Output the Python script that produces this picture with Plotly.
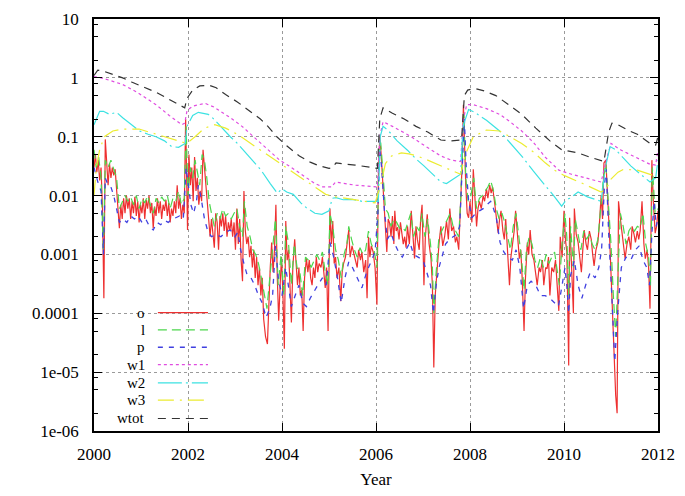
import plotly.graph_objects as go

# ---------------- data ----------------
o_year = [2000.00, 2000.03, 2000.06, 2000.09, 2000.12, 2000.15, 2000.18, 2000.21, 2000.24, 2000.27,
          2000.30, 2000.33, 2000.36, 2000.39, 2000.42, 2000.45, 2000.48, 2000.51, 2000.54, 2000.57,
          2000.60, 2000.63, 2000.66, 2000.69, 2000.72, 2000.75, 2000.78, 2000.81, 2000.84, 2000.87,
          2000.90, 2000.93, 2000.96, 2000.99, 2001.02, 2001.05, 2001.08, 2001.11, 2001.14, 2001.17,
          2001.20, 2001.23, 2001.26, 2001.29, 2001.32, 2001.35, 2001.38, 2001.41, 2001.44, 2001.47,
          2001.50, 2001.53, 2001.56, 2001.59, 2001.62, 2001.65, 2001.68, 2001.71, 2001.74, 2001.77,
          2001.80, 2001.83, 2001.86, 2001.89, 2001.92, 2001.95, 2001.97, 2001.99, 2002.02, 2002.05,
          2002.08, 2002.11, 2002.14, 2002.17, 2002.20, 2002.23, 2002.26, 2002.29, 2002.32, 2002.35,
          2002.38, 2002.41, 2002.44, 2002.47, 2002.50, 2002.53, 2002.56, 2002.59, 2002.62, 2002.65,
          2002.68, 2002.71, 2002.74, 2002.77, 2002.80, 2002.83, 2002.86, 2002.89, 2002.92, 2002.95,
          2002.98, 2003.01, 2003.04, 2003.07, 2003.10, 2003.13, 2003.16, 2003.19, 2003.22, 2003.25,
          2003.28, 2003.31, 2003.34, 2003.37, 2003.40, 2003.43, 2003.46, 2003.49, 2003.52, 2003.55,
          2003.58, 2003.61, 2003.65, 2003.69, 2003.72, 2003.75, 2003.78, 2003.81, 2003.84, 2003.87,
          2003.90, 2003.93, 2003.96, 2003.99, 2004.02, 2004.05, 2004.08, 2004.11, 2004.14, 2004.17,
          2004.20, 2004.23, 2004.27, 2004.30, 2004.33, 2004.36, 2004.39, 2004.42, 2004.45, 2004.48,
          2004.52, 2004.55, 2004.58, 2004.61, 2004.64, 2004.67, 2004.70, 2004.73, 2004.76, 2004.79,
          2004.83, 2004.86, 2004.89, 2004.92, 2004.95, 2004.98, 2005.02, 2005.05, 2005.08, 2005.11,
          2005.14, 2005.17, 2005.21, 2005.25, 2005.28, 2005.31, 2005.35, 2005.38, 2005.42, 2005.45,
          2005.49, 2005.52, 2005.56, 2005.60, 2005.63, 2005.67, 2005.70, 2005.74, 2005.78, 2005.81,
          2005.84, 2005.87, 2005.90, 2005.94, 2005.98, 2006.02, 2006.05, 2006.08, 2006.11, 2006.14,
          2006.17, 2006.20, 2006.23, 2006.26, 2006.29, 2006.32, 2006.35, 2006.38, 2006.40, 2006.43,
          2006.46, 2006.49, 2006.52, 2006.55, 2006.58, 2006.61, 2006.64, 2006.67, 2006.71, 2006.75,
          2006.78, 2006.82, 2006.85, 2006.88, 2006.92, 2006.95, 2006.98, 2007.00, 2007.02, 2007.05,
          2007.09, 2007.13, 2007.17, 2007.20, 2007.23, 2007.26, 2007.30, 2007.34, 2007.38, 2007.42,
          2007.46, 2007.50, 2007.54, 2007.57, 2007.61, 2007.65, 2007.69, 2007.72, 2007.76, 2007.80,
          2007.83, 2007.86, 2007.88, 2007.91, 2007.94, 2007.97, 2008.00, 2008.04, 2008.07, 2008.10,
          2008.14, 2008.17, 2008.20, 2008.24, 2008.28, 2008.31, 2008.35, 2008.38, 2008.42, 2008.45,
          2008.48, 2008.52, 2008.56, 2008.60, 2008.63, 2008.66, 2008.70, 2008.73, 2008.76, 2008.80,
          2008.84, 2008.87, 2008.90, 2008.94, 2008.97, 2009.01, 2009.05, 2009.08, 2009.11, 2009.15,
          2009.18, 2009.22, 2009.25, 2009.28, 2009.32, 2009.36, 2009.40, 2009.43, 2009.47, 2009.50,
          2009.54, 2009.57, 2009.61, 2009.64, 2009.67, 2009.70, 2009.74, 2009.78, 2009.82, 2009.85,
          2009.89, 2009.92, 2009.96, 2010.00, 2010.03, 2010.06, 2010.10, 2010.12, 2010.16, 2010.20,
          2010.22, 2010.26, 2010.30, 2010.34, 2010.37, 2010.40, 2010.43, 2010.47, 2010.50, 2010.54,
          2010.58, 2010.61, 2010.64, 2010.68, 2010.72, 2010.75, 2010.79, 2010.82, 2010.85, 2010.89,
          2010.93, 2010.97, 2011.01, 2011.05, 2011.10, 2011.13, 2011.16, 2011.20, 2011.24, 2011.27,
          2011.30, 2011.34, 2011.38, 2011.42, 2011.45, 2011.49, 2011.52, 2011.56, 2011.59, 2011.62,
          2011.66, 2011.70, 2011.73, 2011.77, 2011.80, 2011.83, 2011.87, 2011.90, 2011.94, 2011.97,
          2012.00]
o_val = [0.03, 0.05, 0.025, 0.04, 0.018, 0.03, 0.006, 0.00018, 0.09, 0.03,
         0.015, 0.035, 0.02, 0.03, 0.022, 0.028, 0.012, 0.006, 0.0028, 0.007,
         0.004, 0.009, 0.005, 0.01, 0.006, 0.009, 0.004, 0.008, 0.005, 0.0095,
         0.0045, 0.008, 0.0035, 0.007, 0.005, 0.009, 0.004, 0.0085, 0.006, 0.01,
         0.005, 0.0075, 0.0028, 0.0065, 0.0045, 0.009, 0.005, 0.008, 0.004, 0.007,
         0.0055, 0.0085, 0.0045, 0.0075, 0.0035, 0.006, 0.0045, 0.008, 0.005, 0.015,
         0.006, 0.009, 0.004, 0.007, 0.005, 0.2, 0.02, 0.0026, 0.05, 0.015,
         0.03, 0.008, 0.045, 0.012, 0.02, 0.007, 0.012, 0.008, 0.06, 0.03,
         0.015, 0.006, 0.004, 0.002, 0.004, 0.0025, 0.0013, 0.005, 0.0035, 0.0012,
         0.0045, 0.003, 0.005, 0.0025, 0.0045, 0.002, 0.0035, 0.0025, 0.004, 0.002,
         0.0035, 0.0012, 0.006, 0.0015, 0.004, 0.0008, 0.00035, 0.012, 0.0025, 0.0015,
         0.002, 0.0009, 0.0014, 0.0006, 0.0012, 0.0004, 0.0009, 0.0003, 0.0006, 0.0002,
         0.0004, 0.00008, 0.00004, 0.00003, 0.0002, 0.0006, 0.0016, 0.0005, 0.0012, 0.007,
         0.0004, 0.000075, 0.0003, 0.0009, 0.0002, 0.000025, 0.0037, 0.0008, 0.0012, 0.0002,
         0.00007, 0.0006, 0.0018, 0.0007, 0.0003, 0.0006, 0.0002, 0.00025, 0.00005, 0.0004,
         0.00085, 0.0005, 0.0008, 0.0004, 0.0003, 0.0006, 0.0004, 0.0009, 0.0005, 0.0007,
         0.0006, 0.0009, 0.0004, 0.00027, 0.0006, 0.00005, 0.006, 0.0015, 0.0037, 0.0007,
         0.0009, 0.0004, 0.0006, 0.00016, 0.0005, 0.0007, 0.0009, 0.0015, 0.0026, 0.0009,
         0.0014, 0.0011, 0.0008, 0.0006, 0.0012, 0.0008, 0.0011, 0.0005, 0.0008, 0.00018,
         0.002, 0.0009, 0.0014, 0.0011, 0.0006, 0.00014, 0.02, 0.1, 0.05, 0.02,
         0.006, 0.0025, 0.0011, 0.004, 0.0034, 0.002, 0.0045, 0.0015, 0.0055, 0.0025,
         0.0029, 0.0018, 0.0035, 0.0023, 0.0015, 0.002, 0.0013, 0.003, 0.0015, 0.0055,
         0.002, 0.00085, 0.003, 0.0018, 0.0012, 0.004, 0.007, 0.0015, 0.0003, 0.002,
         0.0048, 0.0015, 0.00085, 0.0003, 0.000012, 0.0002, 0.0006, 0.0015, 0.003, 0.0014,
         0.002, 0.0037, 0.0018, 0.006, 0.0025, 0.003, 0.0016, 0.002, 0.0012, 0.008,
         0.03, 0.35, 0.06, 0.015, 0.005, 0.0042, 0.008, 0.0035, 0.028, 0.009,
         0.003, 0.006, 0.008, 0.006, 0.01, 0.008, 0.013, 0.009, 0.015, 0.011,
         0.014, 0.008, 0.004, 0.0023, 0.004, 0.0055, 0.0025, 0.0018, 0.004, 0.0012,
         0.0003, 0.0009, 0.0014, 0.0025, 0.0055, 0.002, 0.00085, 0.0012, 0.0004, 0.00005,
         0.0004, 0.0016, 0.001, 0.0026, 0.001, 0.0008, 0.0005, 0.0003, 0.0006, 0.0005,
         0.0008, 0.0003, 0.0006, 0.00057, 0.0009, 0.0002, 0.0006, 0.0005, 0.0008, 0.0003,
         0.00011, 0.002, 0.0009, 0.0055, 0.0018, 0.0011, 0.000013, 0.0042, 0.0008, 0.0001,
         0.006, 0.0022, 0.0016, 0.0009, 0.0005, 0.0012, 0.0026, 0.0015, 0.0012, 0.0025,
         0.0018, 0.001, 0.00064, 0.0012, 0.0016, 0.003, 0.01, 0.004, 0.036, 0.04,
         0.01, 0.002, 0.0003, 0.00003, 0.000004, 0.000002, 0.008, 0.004, 0.0023, 0.0015,
         0.00085, 0.0015, 0.002, 0.0012, 0.003, 0.0022, 0.0016, 0.0025, 0.0018, 0.0025,
         0.008, 0.0015, 0.00085, 0.0012, 0.0006, 0.00012, 0.04, 0.008, 0.0023, 0.003,
         0.0055]

l_year = [2000.00, 2000.05, 2000.10, 2000.15, 2000.20, 2000.24, 2000.30, 2000.36, 2000.42, 2000.48,
          2000.54, 2000.60, 2000.66, 2000.72, 2000.78, 2000.84, 2000.90, 2000.96, 2001.02, 2001.08,
          2001.14, 2001.20, 2001.26, 2001.32, 2001.38, 2001.44, 2001.50, 2001.56, 2001.62, 2001.68,
          2001.74, 2001.80, 2001.86, 2001.92, 2001.96, 2002.00, 2002.05, 2002.10, 2002.15, 2002.20,
          2002.25, 2002.30, 2002.35, 2002.40, 2002.45, 2002.50, 2002.56, 2002.62, 2002.68, 2002.74,
          2002.80, 2002.86, 2002.92, 2002.98, 2003.04, 2003.10, 2003.16, 2003.20, 2003.26, 2003.32,
          2003.38, 2003.44, 2003.50, 2003.56, 2003.62, 2003.68, 2003.74, 2003.80, 2003.86, 2003.92,
          2003.98, 2004.04, 2004.08, 2004.14, 2004.20, 2004.26, 2004.32, 2004.38, 2004.44, 2004.50,
          2004.56, 2004.62, 2004.68, 2004.74, 2004.80, 2004.86, 2004.92, 2004.98, 2005.02, 2005.08,
          2005.14, 2005.20, 2005.26, 2005.32, 2005.38, 2005.42, 2005.48, 2005.54, 2005.60, 2005.66,
          2005.72, 2005.78, 2005.84, 2005.90, 2005.96, 2006.02, 2006.06, 2006.10, 2006.14, 2006.20,
          2006.26, 2006.32, 2006.38, 2006.44, 2006.50, 2006.56, 2006.62, 2006.68, 2006.74, 2006.80,
          2006.86, 2006.92, 2006.98, 2007.04, 2007.10, 2007.16, 2007.20, 2007.23, 2007.28, 2007.34,
          2007.40, 2007.46, 2007.52, 2007.58, 2007.64, 2007.70, 2007.76, 2007.80, 2007.84, 2007.87,
          2007.91, 2007.96, 2008.02, 2008.08, 2008.14, 2008.20, 2008.26, 2008.32, 2008.38, 2008.44,
          2008.50, 2008.56, 2008.62, 2008.68, 2008.74, 2008.80, 2008.86, 2008.92, 2008.98, 2009.04,
          2009.10, 2009.15, 2009.20, 2009.26, 2009.32, 2009.38, 2009.44, 2009.50, 2009.56, 2009.62,
          2009.68, 2009.74, 2009.80, 2009.86, 2009.90, 2009.96, 2010.02, 2010.06, 2010.10, 2010.14,
          2010.20, 2010.24, 2010.30, 2010.36, 2010.42, 2010.48, 2010.54, 2010.60, 2010.66, 2010.72,
          2010.78, 2010.84, 2010.89, 2010.94, 2011.00, 2011.05, 2011.10, 2011.15, 2011.20, 2011.26,
          2011.32, 2011.38, 2011.44, 2011.50, 2011.56, 2011.62, 2011.68, 2011.74, 2011.80, 2011.84,
          2011.88, 2011.94, 2012.00]
l_val = [0.06, 0.03, 0.045, 0.02, 0.0011, 0.04, 0.03, 0.04, 0.028, 0.02,
         0.006, 0.008, 0.01, 0.008, 0.0095, 0.007, 0.01, 0.006, 0.009, 0.0075,
         0.01, 0.007, 0.005, 0.009, 0.0075, 0.0095, 0.008, 0.01, 0.006, 0.009,
         0.008, 0.012, 0.007, 0.009, 0.15, 0.01, 0.03, 0.02, 0.04, 0.025,
         0.015, 0.05, 0.04, 0.02, 0.008, 0.005, 0.003, 0.005, 0.004, 0.006,
         0.0045, 0.005, 0.004, 0.005, 0.006, 0.003, 0.002, 0.008, 0.003, 0.002,
         0.0012, 0.001, 0.0007, 0.0004, 0.0002, 0.00012, 0.0004, 0.0015, 0.004, 0.0003,
         0.001, 0.0002, 0.003, 0.0015, 0.0003, 0.0015, 0.0006, 0.0005, 0.0002, 0.0009,
         0.0008, 0.0006, 0.0008, 0.001, 0.0008, 0.0011, 0.0005, 0.0003, 0.005, 0.003,
         0.0012, 0.0008, 0.0004, 0.001, 0.0015, 0.003, 0.0018, 0.0012, 0.0009, 0.0013,
         0.001, 0.0012, 0.0025, 0.0015, 0.0012, 0.0006, 0.04, 0.08, 0.03, 0.006,
         0.005, 0.003, 0.004, 0.0035, 0.0028, 0.003, 0.0025, 0.0035, 0.005, 0.002,
         0.003, 0.0025, 0.005, 0.002, 0.004, 0.0015, 0.0006, 0.0001, 0.0005, 0.002,
         0.0025, 0.003, 0.004, 0.005, 0.003, 0.0025, 0.002, 0.008, 0.05, 0.25,
         0.02, 0.008, 0.01, 0.02, 0.006, 0.009, 0.01, 0.012, 0.014, 0.018,
         0.012, 0.006, 0.004, 0.005, 0.0035, 0.002, 0.0012, 0.003, 0.005, 0.002,
         0.0008, 0.00025, 0.0012, 0.002, 0.0015, 0.0008, 0.0006, 0.0009, 0.0006, 0.001,
         0.0007, 0.0009, 0.0011, 0.0005, 0.0003, 0.0015, 0.005, 0.002, 0.0002, 0.003,
         0.0006, 0.004, 0.002, 0.0012, 0.0025, 0.0018, 0.0022, 0.0015, 0.0012, 0.0018,
         0.006, 0.02, 0.035, 0.008, 0.0015, 0.0002, 0.00004, 0.0005, 0.005, 0.003,
         0.0015, 0.0025, 0.003, 0.0025, 0.003, 0.0028, 0.005, 0.0015, 0.0009, 0.0003,
         0.03, 0.005, 0.006]

p_year = [2000.00, 2000.05, 2000.10, 2000.15, 2000.20, 2000.24, 2000.30, 2000.36, 2000.42, 2000.48,
          2000.54, 2000.62, 2000.70, 2000.78, 2000.86, 2000.94, 2001.02, 2001.10, 2001.18, 2001.26,
          2001.34, 2001.42, 2001.50, 2001.58, 2001.66, 2001.74, 2001.82, 2001.90, 2001.96, 2002.00,
          2002.06, 2002.12, 2002.18, 2002.22, 2002.28, 2002.35, 2002.42, 2002.50, 2002.60, 2002.70,
          2002.80, 2002.90, 2003.00, 2003.06, 2003.12, 2003.18, 2003.26, 2003.34, 2003.42, 2003.50,
          2003.58, 2003.66, 2003.74, 2003.80, 2003.86, 2003.92, 2004.00, 2004.08, 2004.14, 2004.20,
          2004.28, 2004.36, 2004.44, 2004.52, 2004.60, 2004.68, 2004.76, 2004.86, 2004.94, 2005.02,
          2005.10, 2005.18, 2005.26, 2005.34, 2005.42, 2005.50, 2005.60, 2005.70, 2005.80, 2005.90,
          2005.98, 2006.04, 2006.08, 2006.12, 2006.18, 2006.24, 2006.32, 2006.40, 2006.48, 2006.56,
          2006.64, 2006.72, 2006.80, 2006.90, 2007.00, 2007.08, 2007.16, 2007.22, 2007.28, 2007.34,
          2007.40, 2007.48, 2007.56, 2007.64, 2007.72, 2007.78, 2007.84, 2007.88, 2007.92, 2007.97,
          2008.04, 2008.12, 2008.20, 2008.28, 2008.36, 2008.44, 2008.50, 2008.56, 2008.64, 2008.72,
          2008.80, 2008.90, 2008.98, 2009.06, 2009.14, 2009.22, 2009.30, 2009.40, 2009.50, 2009.60,
          2009.70, 2009.80, 2009.88, 2009.96, 2010.02, 2010.06, 2010.10, 2010.14, 2010.22, 2010.30,
          2010.38, 2010.46, 2010.56, 2010.66, 2010.74, 2010.80, 2010.86, 2010.90, 2010.95, 2011.02,
          2011.08, 2011.14, 2011.22, 2011.32, 2011.42, 2011.52, 2011.60, 2011.68, 2011.76, 2011.82,
          2011.87, 2011.92, 2011.96, 2012.00]
p_val = [0.03, 0.02, 0.015, 0.012, 0.001, 0.02, 0.015, 0.014, 0.01, 0.006,
         0.0035, 0.004, 0.0035, 0.0045, 0.004, 0.0045, 0.0035, 0.004, 0.003, 0.0026,
         0.0035, 0.0032, 0.0038, 0.0035, 0.004, 0.0042, 0.0045, 0.004, 0.03, 0.017,
         0.007, 0.005, 0.008, 0.015, 0.009, 0.004, 0.0025, 0.002, 0.0022, 0.002,
         0.0024, 0.0026, 0.002, 0.0024, 0.0012, 0.00075, 0.00044, 0.0004, 0.0003, 0.0002,
         0.00015, 0.000085, 0.00012, 0.0002, 0.0014, 0.0004, 0.0002, 0.0006, 0.00025, 0.00013,
         0.0002, 0.0003, 0.00015, 0.00013, 0.00018, 0.00024, 0.0003, 0.0004, 0.0003, 0.0016,
         0.0009, 0.0004, 0.00015, 0.0004, 0.00075, 0.0006, 0.0004, 0.00027, 0.0005, 0.0008,
         0.0011, 0.005, 0.06, 0.03, 0.0055, 0.0018, 0.0023, 0.0015, 0.0011, 0.0009,
         0.0012, 0.0016, 0.001, 0.0009, 0.0008, 0.0005, 0.0003, 0.0001, 0.0003, 0.0006,
         0.0009, 0.0015, 0.0018, 0.002, 0.0022, 0.003, 0.03, 0.2, 0.03, 0.008,
         0.0042, 0.005, 0.0055, 0.006, 0.007, 0.008, 0.006, 0.0042, 0.0016, 0.0011,
         0.0009, 0.0008, 0.0012, 0.0006, 0.00012, 0.0003, 0.00035, 0.0003, 0.0002, 0.0002,
         0.00018, 0.00015, 0.00013, 0.0003, 0.0006, 0.0003, 0.0001, 0.00044, 0.0008, 0.0003,
         0.00018, 0.0003, 0.0005, 0.0004, 0.0006, 0.0012, 0.015, 0.028, 0.0023, 0.00018,
         0.000015, 0.0001, 0.0006, 0.0009, 0.0008, 0.0012, 0.0014, 0.0008, 0.0006, 0.0003,
         0.0023, 0.008, 0.003, 0.004]

w1_year = [2000.00, 2000.15, 2000.35, 2000.61, 2000.90, 2001.32, 2001.60, 2001.87, 2001.93, 2001.98,
           2002.10, 2002.36, 2002.55, 2002.90, 2003.15, 2003.40, 2003.70, 2003.95, 2004.20, 2004.45,
           2004.70, 2004.87, 2005.05, 2005.14, 2005.35, 2005.56, 2005.80, 2006.03, 2006.08, 2006.15,
           2006.35, 2006.54, 2006.75, 2006.96, 2007.18, 2007.38, 2007.60, 2007.80, 2007.86, 2007.93,
           2008.07, 2008.35, 2008.63, 2008.85, 2009.10, 2009.35, 2009.60, 2009.89, 2010.16, 2010.45,
           2010.79, 2010.90, 2011.00, 2011.20, 2011.42, 2011.65, 2011.83, 2011.95, 2012.00]
w1_val = [1.05, 1.0, 0.9, 0.77, 0.58, 0.35, 0.23, 0.16, 0.17, 0.28,
          0.33, 0.37, 0.32, 0.21, 0.15, 0.1, 0.06, 0.04, 0.03, 0.022,
          0.016, 0.014, 0.014, 0.017, 0.016, 0.015, 0.0145, 0.014, 0.1, 0.18,
          0.15, 0.125, 0.1, 0.077, 0.06, 0.047, 0.04, 0.038, 0.2, 0.35,
          0.35, 0.3, 0.24, 0.18, 0.125, 0.08, 0.045, 0.027, 0.023, 0.02,
          0.017, 0.04, 0.077, 0.06, 0.049, 0.04, 0.034, 0.033, 0.06]

w2_year = [2000.00, 2000.05, 2000.12, 2000.20, 2000.33, 2000.48, 2000.61, 2000.80, 2000.96, 2001.15,
           2001.32, 2001.50, 2001.65, 2001.80, 2001.94, 2001.98, 2002.10, 2002.22, 2002.43, 2002.55,
           2002.70, 2002.90, 2003.05, 2003.30, 2003.54, 2003.75, 2003.90, 2004.00, 2004.10, 2004.24,
           2004.40, 2004.52, 2004.70, 2004.85, 2005.00, 2005.07, 2005.15, 2005.30, 2005.50, 2005.70,
           2005.84, 2006.05, 2006.09, 2006.15, 2006.25, 2006.45, 2006.67, 2006.85, 2007.02, 2007.20,
           2007.38, 2007.50, 2007.65, 2007.80, 2007.85, 2007.97, 2008.10, 2008.35, 2008.63, 2008.85,
           2009.10, 2009.35, 2009.60, 2009.80, 2009.95, 2010.05, 2010.12, 2010.30, 2010.50, 2010.79,
           2010.88, 2010.98, 2011.10, 2011.25, 2011.42, 2011.60, 2011.83, 2011.95, 2012.00]
w2_val = [0.16, 0.2, 0.27, 0.27, 0.24, 0.26, 0.21, 0.16, 0.126, 0.11,
          0.1, 0.085, 0.068, 0.066, 0.077, 0.15, 0.23, 0.26, 0.24, 0.2,
          0.146, 0.1, 0.077, 0.045, 0.028, 0.016, 0.011, 0.013, 0.0115, 0.0105,
          0.0075, 0.0062, 0.005, 0.0048, 0.0055, 0.009, 0.0092, 0.0085, 0.0086, 0.008,
          0.008, 0.008, 0.1, 0.15, 0.13, 0.085, 0.059, 0.042, 0.032, 0.023,
          0.017, 0.016, 0.019, 0.023, 0.15, 0.29, 0.26, 0.19, 0.125, 0.08,
          0.047, 0.026, 0.015, 0.0095, 0.0066, 0.0085, 0.009, 0.0115, 0.0095, 0.008,
          0.03, 0.068, 0.06, 0.045, 0.032, 0.024, 0.017, 0.02, 0.04]

w3_year = [2000.00, 2000.05, 2000.12, 2000.22, 2000.40, 2000.61, 2000.96, 2001.32, 2001.60, 2001.80,
           2001.97, 2002.15, 2002.35, 2002.57, 2002.80, 2003.05, 2003.30, 2003.54, 2003.75, 2003.95,
           2004.20, 2004.45, 2004.70, 2004.93, 2005.15, 2005.35, 2005.56, 2005.77, 2005.98, 2006.10,
           2006.20, 2006.33, 2006.54, 2006.70, 2006.88, 2007.10, 2007.38, 2007.60, 2007.80, 2007.90,
           2008.07, 2008.35, 2008.63, 2008.85, 2009.10, 2009.35, 2009.60, 2009.80, 2010.00, 2010.40,
           2010.79, 2010.90, 2011.00, 2011.15, 2011.27, 2011.56, 2011.75, 2011.90, 2012.00]
w3_val = [0.01, 0.03, 0.06, 0.1, 0.125, 0.135, 0.135, 0.11, 0.095, 0.086,
          0.077, 0.1, 0.14, 0.16, 0.14, 0.11, 0.08, 0.06, 0.045, 0.036,
          0.026, 0.019, 0.014, 0.0105, 0.0095, 0.009, 0.0085, 0.008, 0.0075, 0.015,
          0.035, 0.047, 0.053, 0.051, 0.047, 0.04, 0.032, 0.027, 0.023, 0.05,
          0.1, 0.13, 0.125, 0.1, 0.077, 0.055, 0.036, 0.027, 0.022, 0.016,
          0.0115, 0.013, 0.019, 0.025, 0.028, 0.027, 0.024, 0.022, 0.022]

wtot_year = [2000.00, 2000.08, 2000.20, 2000.40, 2000.61, 2000.80, 2001.00, 2001.32, 2001.60, 2001.93,
             2001.98, 2002.10, 2002.25, 2002.45, 2002.60, 2002.80, 2003.05, 2003.30, 2003.54, 2003.70,
             2003.89, 2004.10, 2004.37, 2004.60, 2004.79, 2005.00, 2005.08, 2005.15, 2005.35, 2005.56,
             2005.80, 2006.03, 2006.08, 2006.15, 2006.35, 2006.60, 2006.85, 2007.10, 2007.38, 2007.60,
             2007.82, 2007.88, 2007.95, 2008.10, 2008.30, 2008.55, 2008.80, 2009.10, 2009.40, 2009.70,
             2009.95, 2010.30, 2010.55, 2010.85, 2010.95, 2011.02, 2011.15, 2011.35, 2011.56, 2011.83,
             2011.95, 2012.00]
wtot_val = [1.1, 1.35, 1.3, 1.15, 1.0, 0.85, 0.72, 0.57, 0.43, 0.31,
            0.45, 0.62, 0.73, 0.75, 0.68, 0.52, 0.39, 0.28, 0.2, 0.15,
            0.1, 0.07, 0.047, 0.037, 0.032, 0.029, 0.03, 0.036, 0.034, 0.033,
            0.031, 0.029, 0.2, 0.31, 0.25, 0.2, 0.15, 0.12, 0.088, 0.085,
            0.088, 0.5, 0.62, 0.66, 0.6, 0.5, 0.36, 0.24, 0.14, 0.085,
            0.06, 0.053, 0.045, 0.038, 0.12, 0.17, 0.16, 0.13, 0.11, 0.077,
            0.072, 0.1]

series_names = ["o", "l", "p", "w1", "w2", "w3", "wtot"]
y_tick_vals = [1e-6, 1e-5, 1e-4, 1e-3, 1e-2, 1e-1, 1, 10]
y_tick_text = ["1e-06", "1e-05", "0.0001", "0.001", "0.01", "0.1", "1", "10"]
x_tick_vals = [2000, 2002, 2004, 2006, 2008, 2010, 2012]
x_tick_text = ["2000", "2002", "2004", "2006", "2008", "2010", "2012"]

# ---------------- styling ----------------
colors = ["#ee3030", "#4cd64c", "#4040e0", "#e04ce0", "#3ce2e2", "#ecec30", "#333333"]
dashes = ["solid", "9px,5px", "5px,6px", "3px,3px", "24px,4px,2px,4px", "16px,6px,2px,6px", "8px,6px"]
widths = [1.2, 1.2, 1.3, 1.2, 1.2, 1.2, 1.2]
data = [(o_year, o_val), (l_year, l_val), (p_year, p_val), (w1_year, w1_val),
        (w2_year, w2_val), (w3_year, w3_val), (wtot_year, wtot_val)]

FONT = "Liberation Serif, Times New Roman, serif"
FS = 17
KEY_FS = 15

fig = go.Figure()
for name, (xs, ys), c, d, w in zip(series_names, data, colors, dashes, widths):
    fig.add_trace(go.Scatter(x=xs, y=ys, mode="lines", name=name,
                             line=dict(color=c, width=w, dash=d), showlegend=False))

# plot area in pixels: left 94, right 668, top 10, bottom 438
W, H = 685, 496
L, R, T, B = 94, 668, 10, 438
def px(x):
    return (x - L) / (R - L)
def py(y):
    return (B - y) / (B - T)

shapes = []
annotations = []
# opaque key box (hides grid lines behind the key)
shapes.append(dict(type="rect", xref="paper", yref="paper", x0=0.002, x1=px(222),
                   y0=0.002, y1=py(305), fillcolor="white", line=dict(width=0), layer="between"))
row_y = [315, 333, 351, 369, 388, 406, 425]
for name, c, d, w, ry in zip(series_names, colors, dashes, widths, row_y):
    annotations.append(dict(text=name, xref="paper", yref="paper", x=px(148), y=py(ry),
                            xanchor="right", yanchor="middle", showarrow=False,
                            font=dict(family=FONT, size=KEY_FS, color="black")))
    shapes.append(dict(type="line", xref="paper", yref="paper", x0=px(159), x1=px(210),
                       y0=py(ry), y1=py(ry), line=dict(color=c, width=w, dash=d), layer="above"))

minor_y = []
for e in range(-6, 1):
    for m in (2, 5, 8):
        minor_y.append(m * 10 ** e)

fig.update_layout(
    width=W, height=H,
    margin=dict(l=L, r=W - R, t=T, b=H - B, pad=0),
    paper_bgcolor="white", plot_bgcolor="white",
    font=dict(family=FONT, size=FS, color="black"),
    shapes=shapes, annotations=annotations,
    showlegend=False,
)
fig.update_xaxes(
    range=[2000, 2012], tickmode="array", tickvals=x_tick_vals, ticktext=x_tick_text,
    showline=True, linecolor="black", linewidth=1.5, mirror="ticks",
    ticks="inside", ticklen=8, tickcolor="black", tickwidth=1,
    showgrid=True, gridcolor="#9a9a9a", griddash="dot", gridwidth=1,
    zeroline=False, ticklabelstandoff=7,
    title=dict(text="Year", font=dict(family=FONT, size=FS), standoff=10),
    tickfont=dict(family=FONT, size=FS),
)
fig.update_yaxes(
    type="log", range=[-6, 1], tickmode="array", tickvals=y_tick_vals, ticktext=y_tick_text,
    showline=True, linecolor="black", linewidth=1.5, mirror="ticks",
    ticks="inside", ticklen=8, tickcolor="black", tickwidth=1,
    showgrid=True, gridcolor="#9a9a9a", griddash="dot", gridwidth=1,
    zeroline=False, ticklabelstandoff=10,
    minor=dict(tickmode="array", tickvals=minor_y, ticks="inside", ticklen=4,
               tickcolor="black", showgrid=False),
    tickfont=dict(family=FONT, size=FS),
)

fig.write_html("out.html")
